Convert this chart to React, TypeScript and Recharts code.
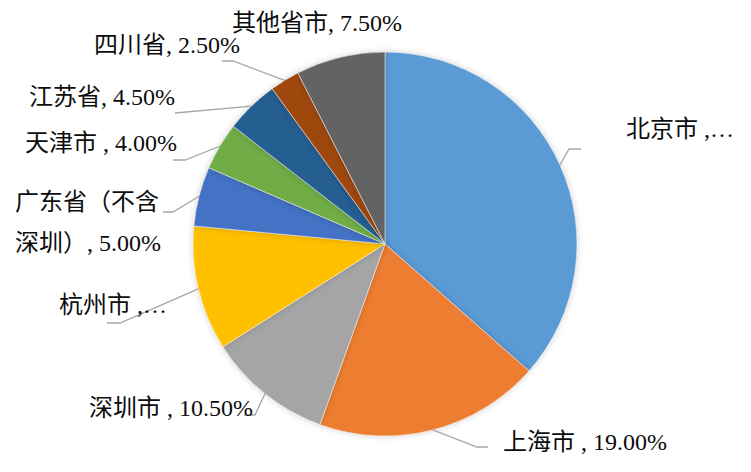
import React from 'react';
import { PieChart, Pie, Cell } from 'recharts';

const categories = ['北京市', '上海市', '深圳市', '杭州市', '广东省（不含深圳）', '天津市', '江苏省', '四川省', '其他省市'];
const shares = [36.5, 19.0, 10.5, 10.5, 5.0, 4.0, 4.5, 2.5, 7.5];
// label text templates ({v} is replaced by the formatted share, | splits lines)
const labelTemplates = ['北京市 ,…', '上海市 , {v}', '深圳市 , {v}', '杭州市 ,…', '广东省（不含|深圳）, {v}', '天津市 , {v}', '江苏省, {v}', '四川省, {v}', '其他省市, {v}'];

const COLORS = ['#5B9BD5', '#ED7D31', '#A5A5A5', '#FFC000', '#4472C4', '#70AD47', '#255E91', '#9E480E', '#636363'];

// label layout (offsets from pie centre): elbow, end of leader line, text anchor
type Layout = { elbow?: [number, number]; end?: [number, number]; tx: number; ty: number; anchor: 'start' | 'end' };
const LABEL_LAYOUT: Layout[] = [
  { elbow: [184, -95], end: [196, -95], tx: 241, ty: -115, anchor: 'start' },
  { elbow: [92, 203], end: [103, 203], tx: 118, ty: 198, anchor: 'start' },
  { elbow: [-130, 171], end: [-141, 171], tx: -132, ty: 164, anchor: 'end' },
  { elbow: [-265, 79], end: [-278, 79], tx: -218, ty: 61, anchor: 'end' },
  { elbow: [-212, -32], end: [-222, -32], tx: -370, ty: -42, anchor: 'start' },
  { elbow: [-200, -84], end: [-212, -84], tx: -208, ty: -101, anchor: 'end' },
  { elbow: [-210, -131], end: [-210, -131], tx: -210, ty: -147, anchor: 'end' },
  { elbow: [-152, -183], end: [-163, -183], tx: -145, ty: -199, anchor: 'end' },
  { tx: -153, ty: -221, anchor: 'start' },
];

const data = categories.map((name, i) => ({ name, value: shares[i] }));

const RAD = Math.PI / 180;
const FONT = "'Liberation Serif', 'Times New Roman', 'Noto Sans CJK SC', serif";

const renderLabel = (props: any) => {
  const { cx, cy, midAngle, outerRadius, index, value } = props;
  const lay = LABEL_LAYOUT[index];
  const text = labelTemplates[index].replace('{v}', `${Number(value).toFixed(2)}%`);
  const lines = text.split('|');
  const sx = cx + outerRadius * Math.cos(-midAngle * RAD);
  const sy = cy + outerRadius * Math.sin(-midAngle * RAD);
  return (
    <g key={`lbl-${index}`}>
      {lay.elbow && lay.end && (
        <polyline
          points={`${sx},${sy} ${cx + lay.elbow[0]},${cy + lay.elbow[1]} ${cx + lay.end[0]},${cy + lay.end[1]}`}
          fill="none"
          stroke="#A6A6A6"
          strokeWidth={1.3}
        />
      )}
      {lines.map((ln, k) => (
        <text
          key={k}
          x={cx + lay.tx}
          y={cy + lay.ty + k * 41}
          textAnchor={lay.anchor}
          dominantBaseline="central"
          fontFamily={FONT}
          fontSize={24}
          fill="#0D0D0D"
        >
          {ln}
        </text>
      ))}
    </g>
  );
};

export default function App() {
  return (
    <div style={{ position: 'absolute', left: 0, top: 0, width: 751, height: 472, background: '#fff' }}>
      <style>{`.recharts-pie-sector{filter:drop-shadow(0px 0px 3px rgba(0,0,0,0.18));}`}</style>
      <PieChart width={751} height={472} margin={{ top: 0, right: 0, bottom: 0, left: 0 }}>
        <Pie
          data={data}
          dataKey="value"
          nameKey="name"
          cx={385}
          cy={244}
          outerRadius={192}
          startAngle={90}
          endAngle={-270}
          stroke="#ffffff"
          strokeWidth={0.5}
          label={renderLabel}
          labelLine={false}
          isAnimationActive={false}
        >
          {data.map((d, i) => (
            <Cell key={d.name} fill={COLORS[i]} />
          ))}
        </Pie>
      </PieChart>
    </div>
  );
}
